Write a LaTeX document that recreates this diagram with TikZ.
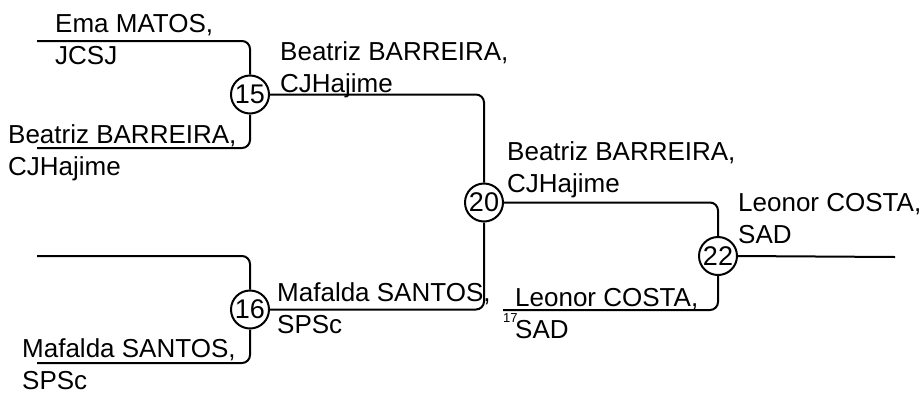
\documentclass[tikz,border=0pt]{standalone}
\usepackage{fontspec}
\setmainfont{Liberation Sans}
\begin{document}
\begin{tikzpicture}[x=1pt,y=-1pt,
  wire/.style={line width=2pt,rounded corners=8pt},
  match/.style={circle,draw,line width=2pt,minimum size=38pt,inner sep=0pt,fill=white,font=\fontsize{27}{27}\selectfont},
  lbl/.style={anchor=base west,align=left,inner sep=0pt,font=\fontsize{26}{31.5}\selectfont},
  tiny/.style={anchor=base west,inner sep=0pt,font=\fontsize{13}{13}\selectfont}]
\useasboundingbox (0,0) rectangle (924,392);
% coordinates
\coordinate (a1) at (37,41);
\coordinate (a2) at (37,148);
\coordinate (b1) at (37,256);
\coordinate (b2) at (37,363);
\coordinate (d2) at (503,310);
\coordinate (out) at (895,257);
% matches
\node[match] (c15) at (250,94.5) {15};
\node[match] (c16) at (250,309.5) {16};
\node[match] (c20) at (484,202.5) {20};
\node[match] (c22) at (718,256) {22};
% wires
\draw[wire] (a1) -| (c15.north);
\draw[wire] (a2) -| (c15.south);
\draw[wire] (b1) -| (c16.north);
\draw[wire] (b2) -| (c16.south);
\draw[wire] (c15.east) -| (c20.north);
\draw[wire] (c16.east) -| (c20.south);
\draw[wire] (c20.east) -| (c22.north);
\draw[wire] (d2) -| (c22.south);
\draw[wire] (c22.east) -- (out);
% labels
\node[lbl] (t1) at (55,64) {Ema MATOS,\\JCSJ};
\node[lbl] (t2) at (8,175) {Beatriz BARREIRA,\\CJHajime};
\node[lbl] (t3) at (280,92) {Beatriz BARREIRA,\\CJHajime};
\node[lbl] (t4) at (22,389) {Mafalda SANTOS,\\SPSc};
\node[lbl] (t5) at (277,333) {Mafalda SANTOS,\\SPSc};
\node[lbl] (t6) at (507,192) {Beatriz BARREIRA,\\CJHajime};
\node[lbl] (t7) at (738,243) {Leonor COSTA,\\SAD};
\node[lbl] (t8) at (515,338) {Leonor COSTA,\\SAD};
\node[tiny] (s17) at (503,322) {17};
\end{tikzpicture}
\end{document}
